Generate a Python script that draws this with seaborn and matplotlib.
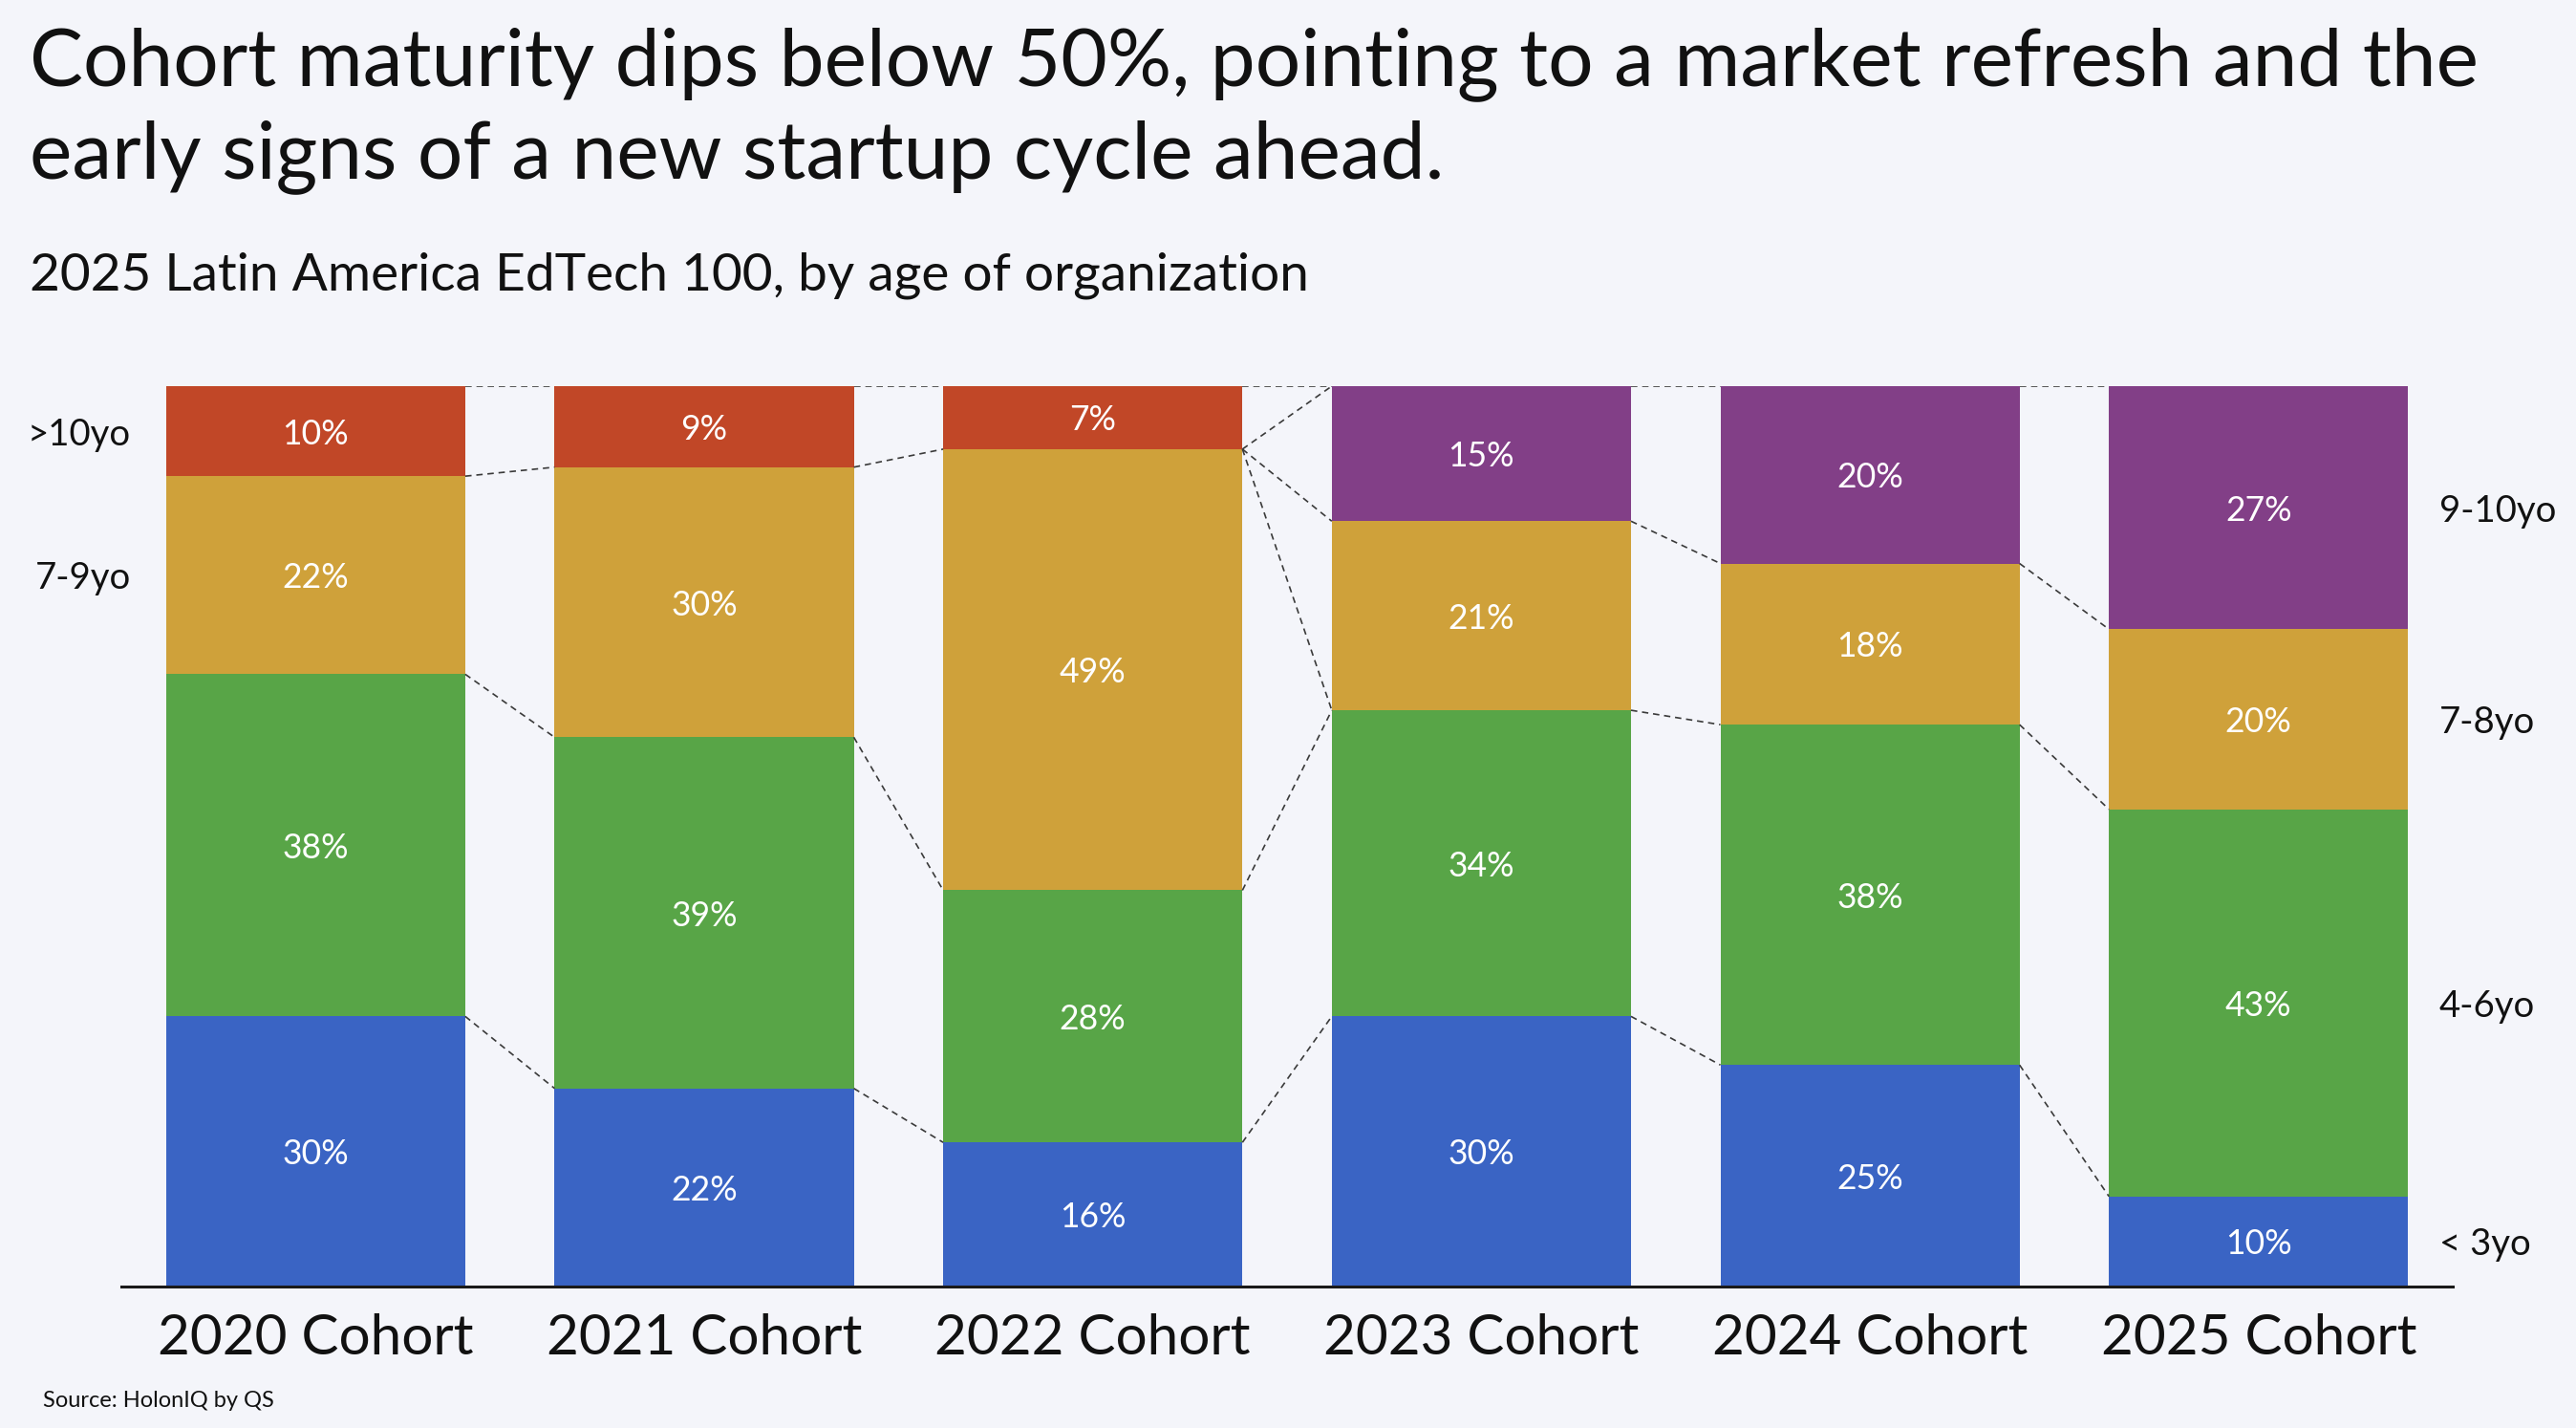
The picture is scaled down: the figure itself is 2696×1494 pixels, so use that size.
import numpy as np
import pandas as pd
import matplotlib
matplotlib.use("Agg")
import matplotlib.pyplot as plt
import seaborn as sns

# ---------------- data ----------------
cohorts = ["2020 Cohort", "2021 Cohort", "2022 Cohort", "2023 Cohort", "2024 Cohort", "2025 Cohort"]
under3 = [30, 22, 16, 30, 24.6, 10]      # < 3yo
age4_6 = [38, 39, 28, 34, 37.8, 43]      # 4-6yo
age7_9 = [22, 30, 49, 21, 17.9, 20]      # 7-9yo / 7-8yo
over10 = [10, 9, 7, 0, 0, 0]             # >10yo
age9_10 = [0, 0, 0, 15, 19.7, 27]        # 9-10yo

left_labels = [">10yo", "7-9yo"]
right_labels = ["9-10yo", "7-8yo", "4-6yo", "< 3yo"]

title_lines = ["Cohort maturity dips below 50%, pointing to a market refresh and the",
               "early signs of a new startup cycle ahead."]
subtitle = "2025 Latin America EdTech 100, by age of organization"
source = "Source: HolonIQ by QS"

# ---------------- style ----------------
BG = "#F4F5FA"
BLUE = "#3A64C4"
GREEN = "#58A547"
YELLOW = "#CFA13A"
RED = "#C14727"
PURPLE = "#823F87"

sns.set_theme(style="white")
plt.rcParams["font.family"] = ["Lato", "DejaVu Sans"]

W = 0.77
fig = plt.figure(figsize=(13.48, 7.47), dpi=200, facecolor=BG)
ax = fig.add_axes([0.0471, 0.0991, 0.9051, 0.6305])
ax.set_facecolor(BG)

u = np.array(under3, float)
g = np.array(age4_6, float)
yel = np.array(age7_9, float)
top = np.array(over10, float) + np.array(age9_10, float)
c1 = u
c2 = u + g
c3 = u + g + yel
c4 = c3 + top

top_pal = {c: (RED if o > 0 else PURPLE) for c, o in zip(cohorts, over10)}
common = dict(width=W, linewidth=0, saturation=1, ax=ax, dodge=False)
sns.barplot(x=cohorts, y=c4, hue=cohorts, palette=top_pal, legend=False, **common)
sns.barplot(x=cohorts, y=c3, color=YELLOW, **common)
sns.barplot(x=cohorts, y=c2, color=GREEN, **common)
sns.barplot(x=cohorts, y=c1, color=BLUE, **common)

# value labels
for i in range(len(cohorts)):
    segs = [(0, c1[i]), (c1[i], c2[i]), (c2[i], c3[i]), (c3[i], c4[i])]
    for lo, hi in segs:
        v = hi - lo
        if v <= 0:
            continue
        ax.text(i, (lo + hi) / 2, f"{round(v)}%", ha="center", va="center_baseline",
                color="white", fontsize=12.8)

# connector lines between adjacent bars (levels top-down)
levels = np.vstack([c4, c3, c2, c1])
basic = [(0, 0), (1, 1), (2, 2), (3, 3)]
links = {0: basic, 1: basic, 2: [(0, 0), (1, 0), (1, 1), (1, 2), (2, 2), (3, 3)], 3: basic, 4: basic}
for i, pairs in links.items():
    for a, b in pairs:
        ax.plot([i + W / 2, i + 1 - W / 2], [levels[a, i], levels[b, i + 1]],
                color="#3a3a3a", lw=0.6, ls=(0, (4, 3)), zorder=1)

# side labels
first, last = 0, len(cohorts) - 1
ax.text(first - W / 2 - 0.09, (c3[first] + c4[first]) / 2, left_labels[0], ha="right",
        va="center_baseline", fontsize=13.8, color="#111111")
ax.text(first - W / 2 - 0.09, (c2[first] + c3[first]) / 2, left_labels[1], ha="right",
        va="center_baseline", fontsize=13.8, color="#111111")
mids_last = [(c3[last] + c4[last]) / 2, (c2[last] + c3[last]) / 2,
             (c1[last] + c2[last]) / 2, c1[last] / 2]
for lab, y in zip(right_labels, mids_last):
    ax.text(last + W / 2 + 0.08, y, lab, ha="left", va="center_baseline",
            fontsize=13.8, color="#111111")

ax.set_xlim(-0.5, len(cohorts) - 0.5)
ax.set_ylim(0, 100)
ax.set_xlabel("")
ax.set_ylabel("")
ax.set_yticks([])
for s in ["left", "top", "right"]:
    ax.spines[s].set_visible(False)
ax.spines["bottom"].set_color("#1a1a1a")
ax.spines["bottom"].set_linewidth(1.1)
ax.tick_params(axis="x", length=0, pad=10, labelsize=21, labelcolor="#111111")

# titles
fig.text(0.0115, 0.9404, title_lines[0], fontsize=30.2, color="#111111", va="baseline")
fig.text(0.0115, 0.8755, title_lines[1], fontsize=30.2, color="#111111", va="baseline")
fig.text(0.0115, 0.797, subtitle, fontsize=19.8, color="#111111", va="baseline")
fig.text(0.0167, 0.0147, source, fontsize=8.5, color="#111111", va="baseline")

fig.savefig("out.png", dpi=200, facecolor=BG)
